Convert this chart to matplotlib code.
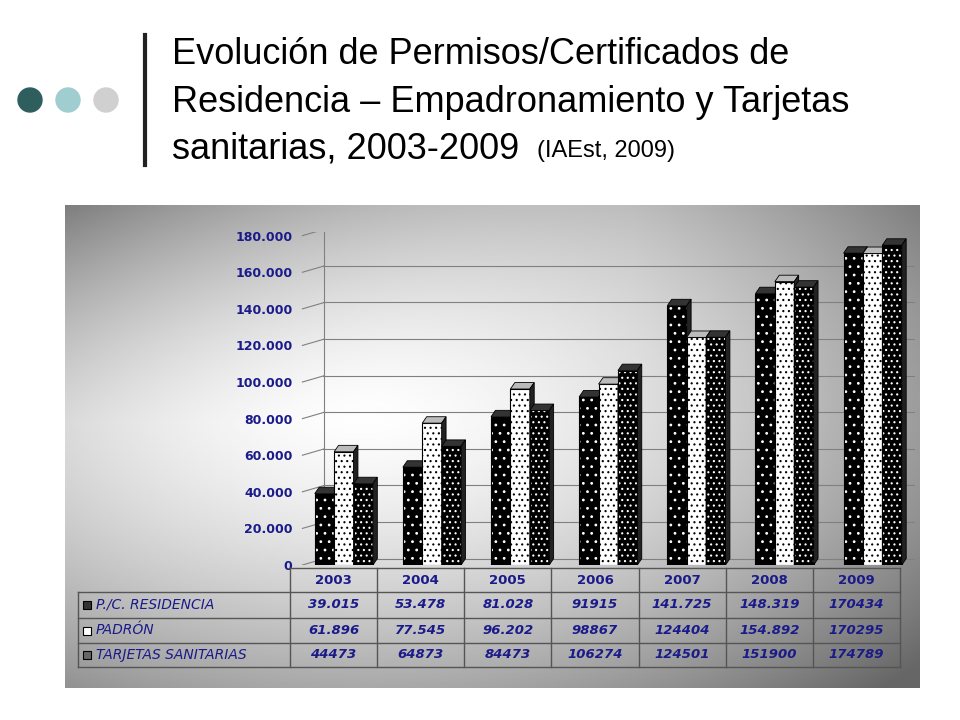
import matplotlib
matplotlib.use("Agg")
import matplotlib.pyplot as plt
import numpy as np
from matplotlib.patches import Polygon, Circle

years = ["2003", "2004", "2005", "2006", "2007", "2008", "2009"]
residencia = [39015, 53478, 81028, 91915, 141725, 148319, 170434]
padron = [61896, 77545, 96202, 98867, 124404, 154892, 170295]
tarjetas = [44473, 64873, 84473, 106274, 124501, 151900, 174789]
res_labels = ["39.015", "53.478", "81.028", "91915", "141.725", "148.319", "170434"]
pad_labels = ["61.896", "77.545", "96.202", "98867", "124404", "154.892", "170295"]
tar_labels = ["44473", "64873", "84473", "106274", "124501", "151900", "174789"]
series_names = ["P./C. RESIDENCIA", "PADRÓN", "TARJETAS SANITARIAS"]
yticks = list(range(0, 180001, 20000))
ytick_labels = ["0", "20.000", "40.000", "60.000", "80.000", "100.000", "120.000", "140.000", "160.000", "180.000"]

W, H = 960, 720
fig = plt.figure(figsize=(9.6, 7.2), dpi=100)
fig.patch.set_facecolor("white")

def fx(x): return x / W
def fy(y): return 1 - y / H

deco = fig.add_axes([0, 0, 1, 1]); deco.set_xlim(0, W); deco.set_ylim(H, 0); deco.axis("off")
for cx, col in [(30, "#2f5e5e"), (68, "#9fcdd0"), (106, "#d0d0d0")]:
    deco.add_patch(Circle((cx, 100), 12, color=col))
deco.plot([145, 145], [35, 165], color="#222222", lw=3)
fs = 26
fig.text(fx(172), fy(55), "Evolución de Permisos/Certificados de", fontsize=fs, va="center", family="Liberation Sans")
fig.text(fx(172), fy(102), "Residencia – Empadronamiento y Tarjetas", fontsize=fs, va="center", family="Liberation Sans")
fig.text(fx(172), fy(149), "sanitarias, 2003-2009", fontsize=fs, va="center", family="Liberation Sans")
fig.text(fx(537), fy(151), "(IAEst, 2009)", fontsize=17, va="center", family="Liberation Sans")

# Gradient background
bg = fig.add_axes([fx(65), fy(688), fx(920 - 65), (688 - 205) / H])
xx, yy = np.meshgrid(np.linspace(0, 1, 300), np.linspace(1, 0, 300))
# light center-left, darker top-left corner and right side
d = np.sqrt(((xx - 0.35) / 0.9) ** 2 + ((yy - 0.6) / 0.9) ** 2)
g = 1.0 - 0.65 * np.clip(d, 0, 1) ** 1.6
g = np.where(yy > 0.55, g - 0.25 * np.clip((yy - 0.55) * 2, 0, 1) * np.clip(1 - xx * 1.5, 0, 1), g)
bg.imshow(np.clip(g, 0.4, 1), cmap="gray", vmin=0, vmax=1, aspect="auto", extent=[0, 1, 0, 1])
bg.axis("off")

ax = fig.add_axes([fx(298), fy(565), fx(915 - 298), (565 - 232) / H])
ax.set_facecolor("none")
ax.set_xlim(-0.5, 6.5)
ax.set_ylim(0, 182000)
ax.set_yticks(yticks)
ax.set_yticklabels(ytick_labels, fontsize=9, fontweight="bold", color="#1a1a8a")
ax.set_xticks([])
for s in ax.spines.values():
    s.set_visible(False)
ax.tick_params(axis="y", length=0, pad=4)
for t in yticks:
    ax.plot([-0.45, -0.2], [t, t + 3500], color="gray", lw=0.8)
    ax.axhline(t + 3500, xmin=0.04, color="gray", lw=0.8)
ax.plot([-0.2, -0.2], [3500, 183500], color="gray", lw=0.8)

plt.rcParams["hatch.linewidth"] = 0.8
w = 0.22
dx, dy = 0.05, 3500
styles = [("black", "white", ".."), ("white", "black", "..."), ("black", "white", "...")]
for i, vals in enumerate([residencia, padron, tarjetas]):
    fc, hc, hatch = styles[i]
    for j, v in enumerate(vals):
        x0 = j - 1.5 * w + i * w + 0.02
        ax.bar(x0 + w / 2, v, width=w, color=fc, edgecolor=hc, hatch=hatch, lw=0, zorder=3 + j)
        ax.bar(x0 + w / 2, v, width=w, fill=False, edgecolor="black", lw=0.8, zorder=3 + j)
        ax.add_patch(Polygon([(x0, v), (x0 + dx, v + dy), (x0 + w + dx, v + dy), (x0 + w, v)],
                             closed=True, fc="#bbbbbb" if fc == "white" else "#333333", ec="black", lw=0.6, zorder=3 + j))
        ax.add_patch(Polygon([(x0 + w, 0), (x0 + w + dx, dy), (x0 + w + dx, v + dy), (x0 + w, v)],
                             closed=True, fc="#222222", ec="black", lw=0.6, zorder=3 + j))

tab = fig.add_axes([0, 0, 1, 1]); tab.set_xlim(0, W); tab.set_ylim(H, 0); tab.axis("off")
left, right = 78, 900
colx0 = 290
cw = (right - colx0) / 7
rows_y = [568, 592, 618, 643, 667]
tab.plot([colx0, right], [rows_y[0], rows_y[0]], color="#555555", lw=1)
for y in rows_y[1:]:
    tab.plot([left, right], [y, y], color="#555555", lw=1)
tab.plot([left, left], [rows_y[1], rows_y[-1]], color="#555555", lw=1)
for k in range(8):
    tab.plot([colx0 + k * cw] * 2, [rows_y[0], rows_y[-1]], color="#555555", lw=1)
for k, yr in enumerate(years):
    tab.text(colx0 + (k + 0.5) * cw, (rows_y[0] + rows_y[1]) / 2, yr, ha="center", va="center",
             fontsize=9.5, fontweight="bold", color="#1a1a8a")
labels = [res_labels, pad_labels, tar_labels]
markers = ["#333333", "white", "#666666"]
for r in range(3):
    yc = (rows_y[r + 1] + rows_y[r + 2]) / 2
    tab.add_patch(plt.Rectangle((83, yc - 4), 8, 8, fc=markers[r], ec="black", lw=0.8))
    tab.text(96, yc, series_names[r], ha="left", va="center", fontsize=10, style="italic", color="#1a1a8a")
    for k in range(7):
        tab.text(colx0 + (k + 0.5) * cw, yc, labels[r][k], ha="center", va="center",
                 fontsize=9.5, fontweight="bold", style="italic", color="#1a1a8a")

fig.savefig("out.png", dpi=100)
